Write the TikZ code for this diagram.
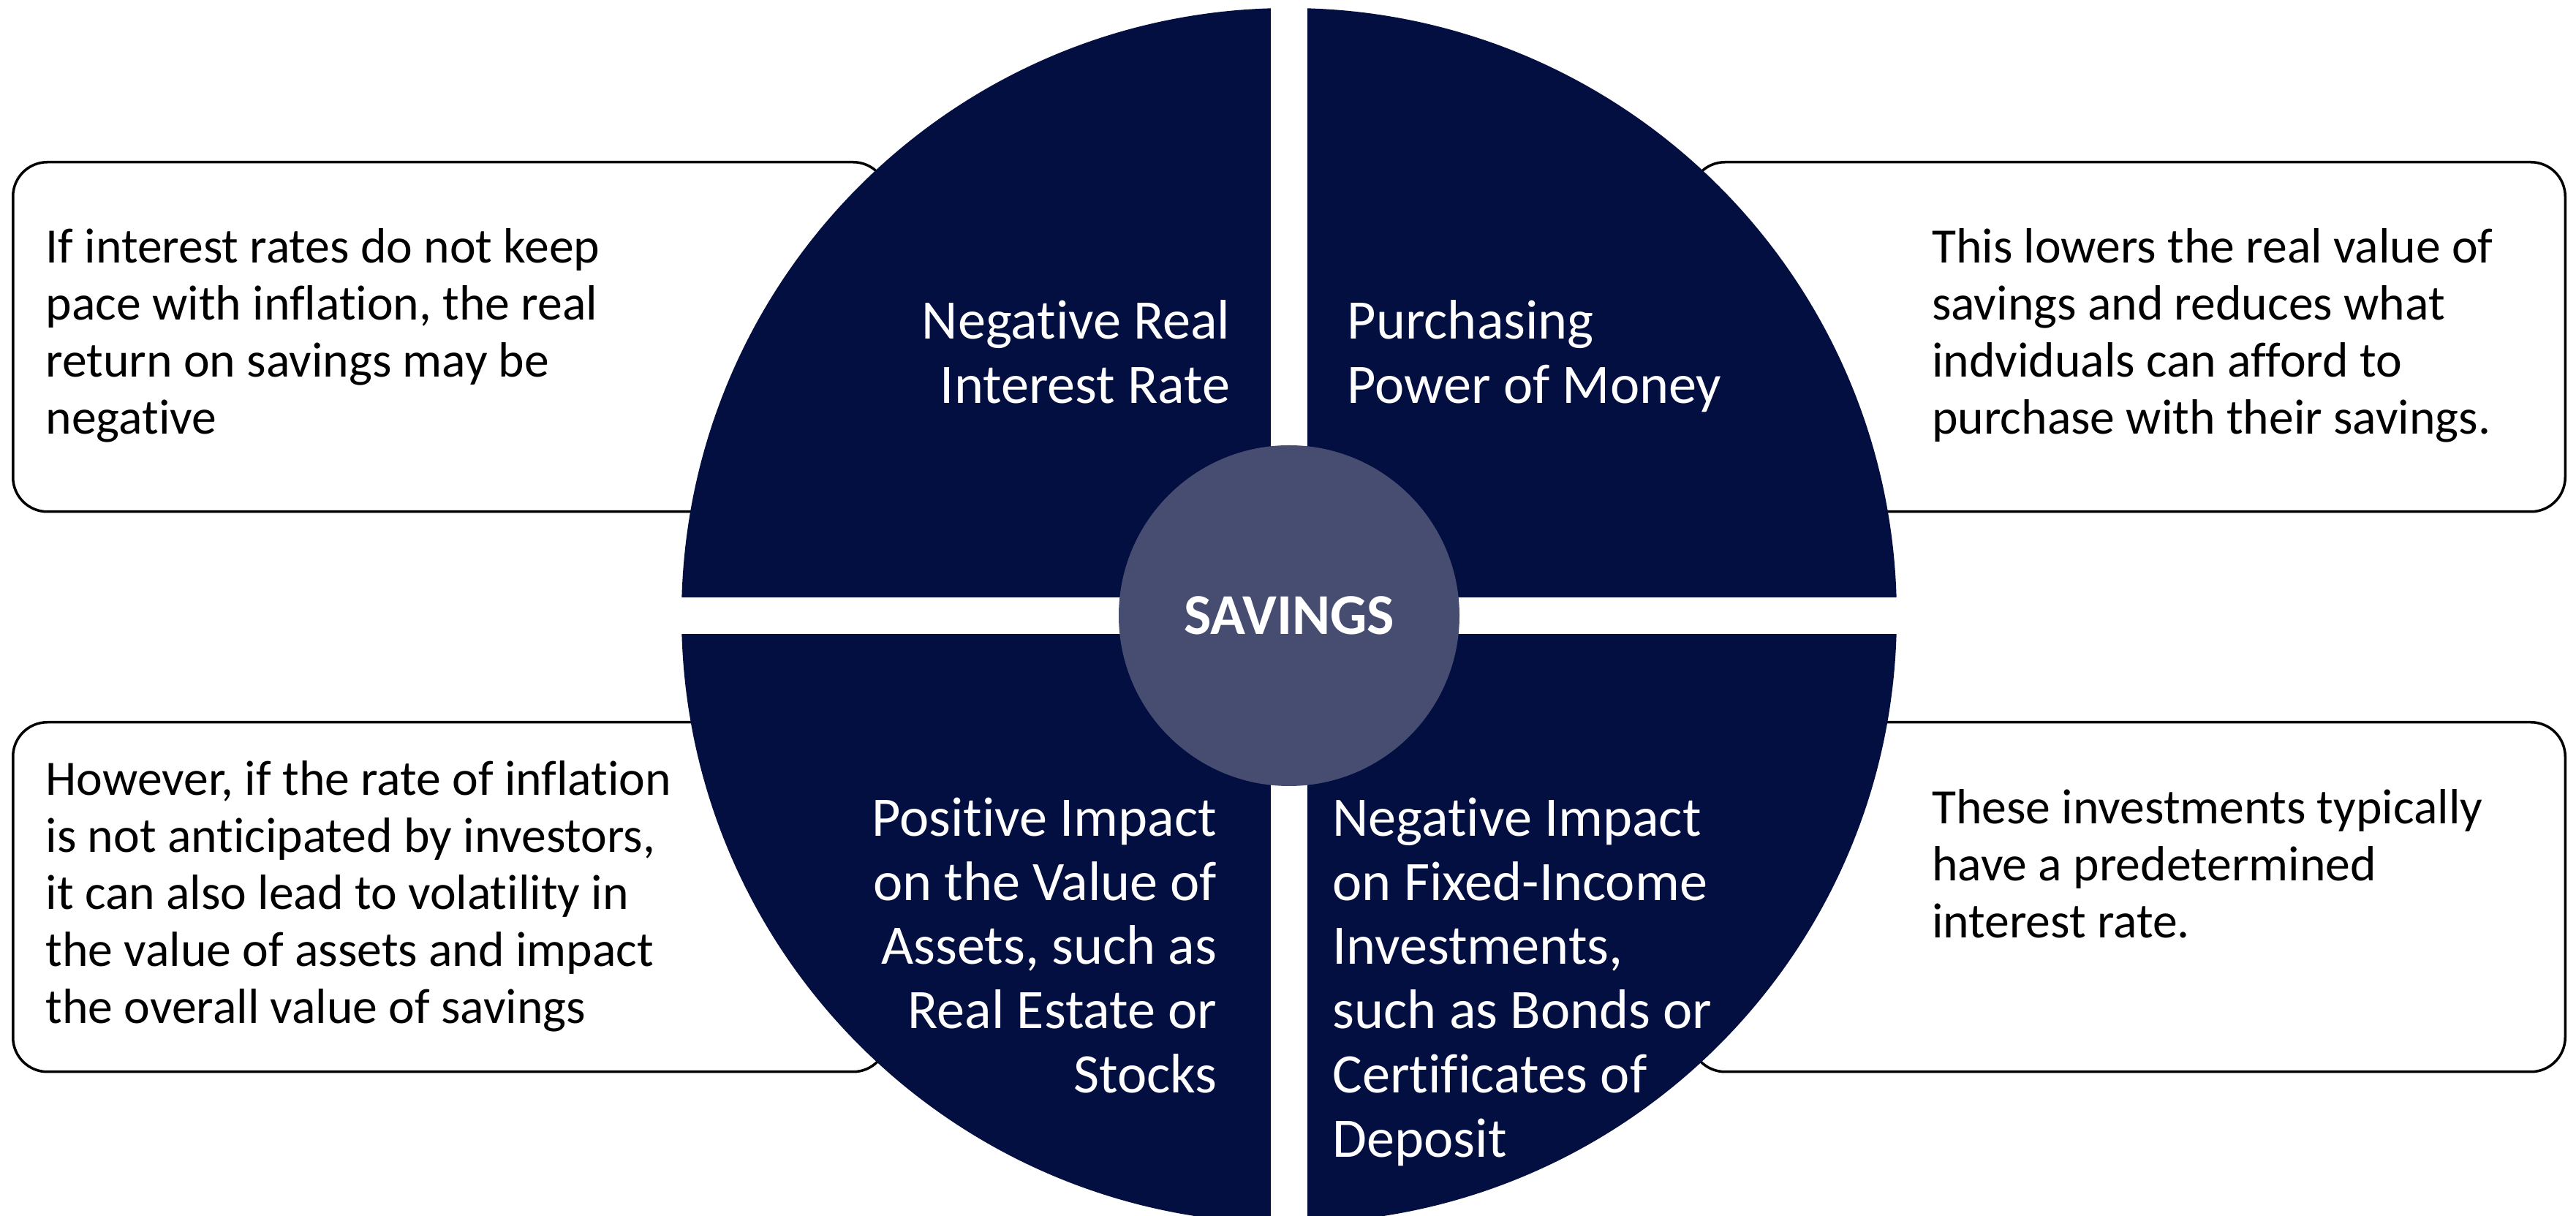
\documentclass[tikz,border=0pt]{standalone}
\usepackage{fontspec}
\setmainfont{Carlito}[Ligatures=NoCommon]
\usetikzlibrary{positioning}

\definecolor{navy}{RGB}{3,15,65}
\definecolor{hubblue}{RGB}{70,77,113}

\tikzset{
  descbox/.style={draw=black, line width=1pt, rounded corners=0.47cm, fill=white,
    minimum width=11.96cm, minimum height=4.78cm, inner sep=0pt},
  desc/.style={align=left, inner sep=0pt, font=\fontsize{19.25}{22.2}\selectfont},
  quad/.style={text=white, inner sep=0pt, font=\fontsize{21.7}{25}\selectfont},
}

\begin{document}
\begin{tikzpicture}
  \useasboundingbox (0,0) rectangle (35.23,16.63);
  \clip (0,0) rectangle (35.23,16.63);

  % side boxes go first, the disc covers their inner ends
  \node[descbox, anchor=north west] (boxNW) at (0.16,14.43) {};
  \node[descbox, anchor=north west] (boxSW) at (0.16,6.77) {};
  \node[descbox, anchor=north east] (boxNE) at (35.10,14.43) {};
  \node[descbox, anchor=north east] (boxSE) at (35.10,6.77) {};

  \node[desc, below right=0.92cm and 0.46cm of boxNW.north west] (txtNW)
    {If interest rates do not keep\\pace with inflation, the real\\return on savings may be\\negative};
  \node[desc, below right=0.54cm and 0.46cm of boxSW.north west] (txtSW)
    {However, if the rate of inflation\\is not anticipated by investors,\\it can also lead to volatility in\\the value of assets and impact\\the overall value of savings};
  \node[desc, below right=0.92cm and 3.31cm of boxNE.north west] (txtNE)
    {This lowers the real value of\\savings and reduces what\\indviduals can afford to\\purchase with their savings.};
  \node[desc, below right=0.93cm and 3.31cm of boxSE.north west] (txtSE)
    {These investments typically\\have a predetermined\\interest rate.};

  % the disc, cut in four
  \fill[navy] (17.63,8.21) circle (8.31);
  \fill[white] (17.38,0) rectangle (17.88,16.63);
  \fill[white] (9.2,7.96) rectangle (26.1,8.46);

  \node[circle, fill=hubblue, minimum size=4.66cm, inner sep=0pt, text=white,
    font=\bfseries\fontsize{22.5}{26}\selectfont] (hub) at (17.63,8.21) {SAVINGS};

  \node[quad, align=right, anchor=north east] (qNW) at (16.83,12.53)
    {Negative Real\\Interest Rate};
  \node[quad, align=left, anchor=north west] (qNE) at (18.42,12.53)
    {Purchasing\\Power of Money};
  \node[quad, align=right, anchor=north east] (qSW) at (16.65,5.73)
    {Positive Impact\\on the Value of\\Assets, such as\\Real Estate or\\Stocks};
  \node[quad, align=left, anchor=north west] (qSE) at (18.22,5.73)
    {Negative Impact\\on Fixed-Income\\Investments,\\such as Bonds or\\Certificates of\\Deposit};
\end{tikzpicture}
\end{document}
